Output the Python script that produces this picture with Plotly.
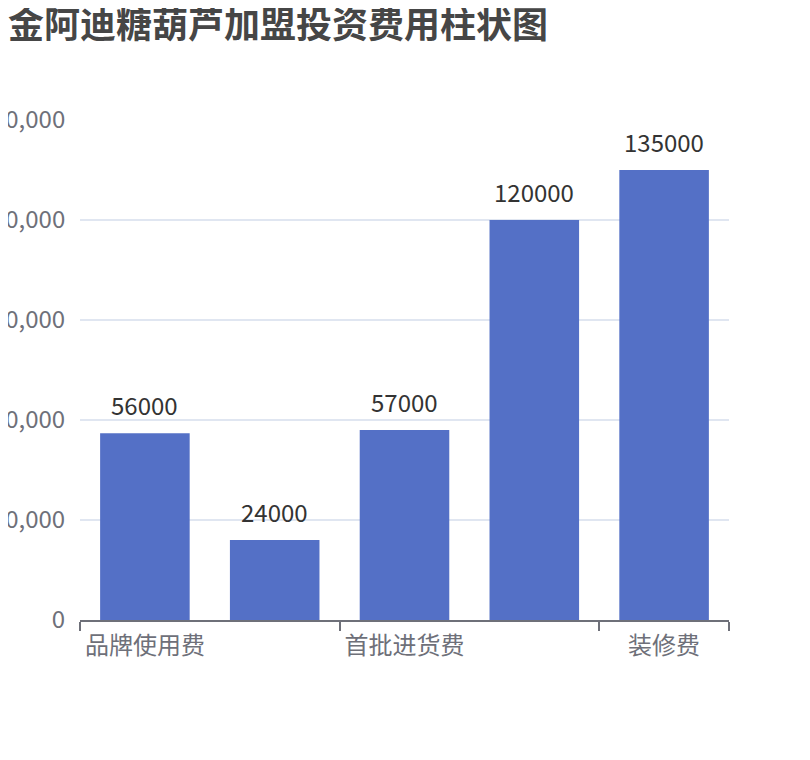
import plotly.graph_objects as go

# 加盟费用数据
categories = ["品牌使用费", "加盟保证金", "首批进货费", "设备费", "装修费"]
costs = [56000, 24000, 57000, 120000, 135000]
y_ticks = [0, 30000, 60000, 90000, 120000, 150000]

positions = list(range(len(categories)))
label_idx = positions[::2]
boundaries = [p - 0.5 for p in positions[::2]] + [positions[-1] + 0.5]

FONT = "Noto Sans CJK SC, Noto Sans, sans-serif"

# page body has an 8px margin, so the figure is sized a bit smaller
W, H = 802, 752

fig = go.Figure(
    go.Bar(
        x=positions,
        y=costs,
        marker=dict(color="#5470c6", line=dict(width=0)),
        hovertext=categories,
    )
)

# value labels above each bar
for xi, v in zip(positions, costs):
    fig.add_annotation(
        x=xi, y=v, text=str(v), showarrow=False,
        xanchor="center", yanchor="bottom", yshift=9,
        font=dict(size=24, color="#333333", family=FONT),
    )

fig.update_layout(
    width=W, height=H,
    margin=dict(l=72, r=81, t=112, b=140, autoexpand=False),
    paper_bgcolor="white",
    plot_bgcolor="white",
    bargap=0.31,
    showlegend=False,
    font=dict(family=FONT),
    title=dict(
        text="<b>金阿迪糖葫芦加盟投资费用柱状图</b>",
        font=dict(size=36, color="#464646", family=FONT),
        x=0, xanchor="left", xref="container",
        y=1 - 5 / H, yanchor="top", yref="container",
        pad=dict(l=0, t=0, r=0, b=0),
    ),
)

fig.update_xaxes(
    automargin=False,
    range=[-0.5, len(categories) - 0.5],
    tickmode="array",
    tickvals=label_idx,
    ticktext=[categories[i] for i in label_idx],
    ticks="outside", ticklen=0,
    ticklabelstandoff=3,
    tickfont=dict(size=24, color="#6E7079"),
    showline=True, linecolor="#6E7079", linewidth=2,
    showgrid=False, zeroline=False,
    minor=dict(tickmode="array", tickvals=boundaries, ticks="outside",
               ticklen=9, tickwidth=2, tickcolor="#6E7079", showgrid=False),
)

fig.update_yaxes(
    automargin=False,
    range=[0, 150000],
    tickmode="array",
    tickvals=y_ticks,
    tickformat=",",
    tickfont=dict(size=24, color="#6E7079"),
    ticks="outside", ticklen=0,
    ticklabelstandoff=9,
    showgrid=True, gridcolor="#E0E6F1", gridwidth=2,
    zeroline=False, showline=False,
)

fig.write_html("out.html")
